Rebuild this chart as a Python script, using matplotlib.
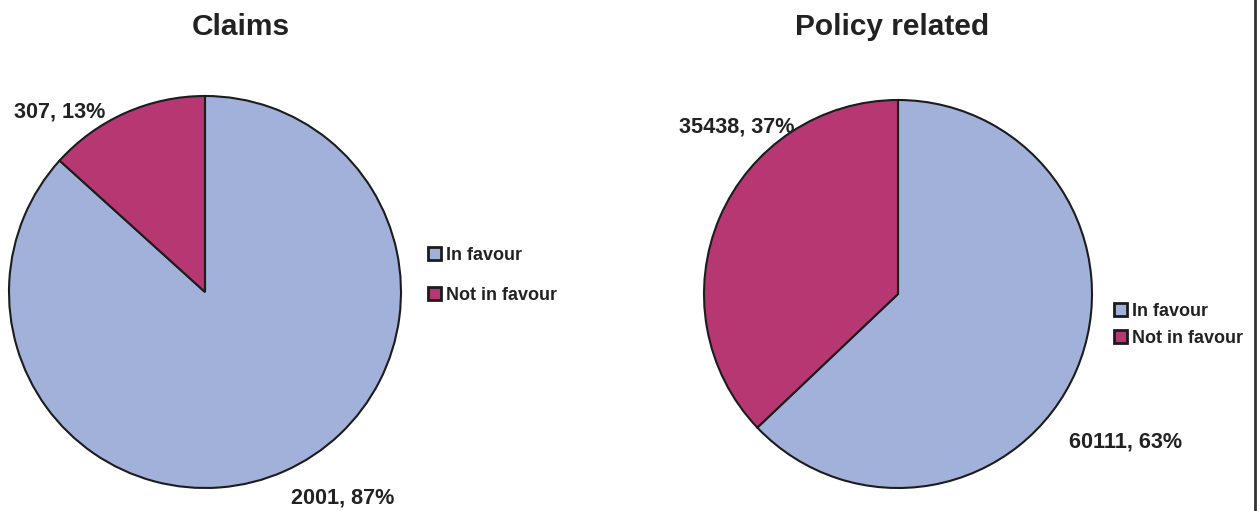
import matplotlib.pyplot as plt
from matplotlib.lines import Line2D

plt.rcParams['font.family'] = ['Liberation Sans', 'DejaVu Sans']

categories = ['In favour', 'Not in favour']
claims_values = [2001, 307]
claims_pct = [87, 13]
policy_values = [60111, 35438]
policy_pct = [63, 37]

COLORS = ['#A2B1D9', '#B73773']
EDGE = '#1c1c1c'
TEXT = '#222222'

W, H = 1257, 511
fig = plt.figure(figsize=(W / 100, H / 100), dpi=100)


def px_axes(cx, cy, r):
    # axes holding a unit-radius pie centred at pixel (cx, cy)
    ax = fig.add_axes([(cx - r) / W, (H - cy - r) / H, 2 * r / W, 2 * r / H])
    ax.axis('off')
    return ax


def draw_pie(ax, values, pcts, label_pos, title, title_xy, legend_xy, spacing):
    wedges, _ = ax.pie(
        values,
        colors=COLORS,
        startangle=90,
        counterclock=False,
        radius=1,
        wedgeprops=dict(edgecolor=EDGE, linewidth=1.5),
    )
    # pie() pads the limits, so pin them to the unit circle afterwards
    ax.set_xlim(-1, 1)
    ax.set_ylim(-1, 1)
    ax.set_aspect('equal')
    for v, p, (x, y, ha) in zip(values, pcts, label_pos):
        ax.text(x, y, f'{v}, {p}%', ha=ha, va='baseline',
                fontsize=15.6, fontweight='bold', color=TEXT)
    fig.text(title_xy[0] / W, 1 - title_xy[1] / H, title, ha='center',
             va='baseline', fontsize=21.5, fontweight='bold', color=TEXT)
    leg = fig.legend(
        wedges, categories,
        loc='upper left',
        bbox_to_anchor=(legend_xy[0] / W, 1 - legend_xy[1] / H),
        frameon=False,
        borderpad=0,
        borderaxespad=0,
        handlelength=0.72,
        handleheight=0.72,
        handletextpad=0.25,
        labelspacing=spacing,
        prop=dict(size=13, weight='bold'),
        labelcolor=TEXT,
    )
    for h in leg.legend_handles:
        h.set_linewidth(2)


ax1 = px_axes(205, 292, 196)
draw_pie(ax1, claims_values, claims_pct,
         [(0.44, -1.077, 'left'), (-0.51, 0.888, 'right')],
         'Claims', (241, 35), (428, 247), 1.25)

ax2 = px_axes(898, 294, 194)
draw_pie(ax2, policy_values, policy_pct,
         [(0.881, -0.789, 'left'), (-0.531, 0.835, 'right')],
         'Policy related', (892, 35), (1114, 303), 0.55)

# dark rule along the right edge
fig.add_artist(Line2D([1254.5 / W, 1254.5 / W], [0, 1], color='#333333',
                      linewidth=2, transform=fig.transFigure))

fig.savefig('out.png', dpi=100, facecolor='white')
